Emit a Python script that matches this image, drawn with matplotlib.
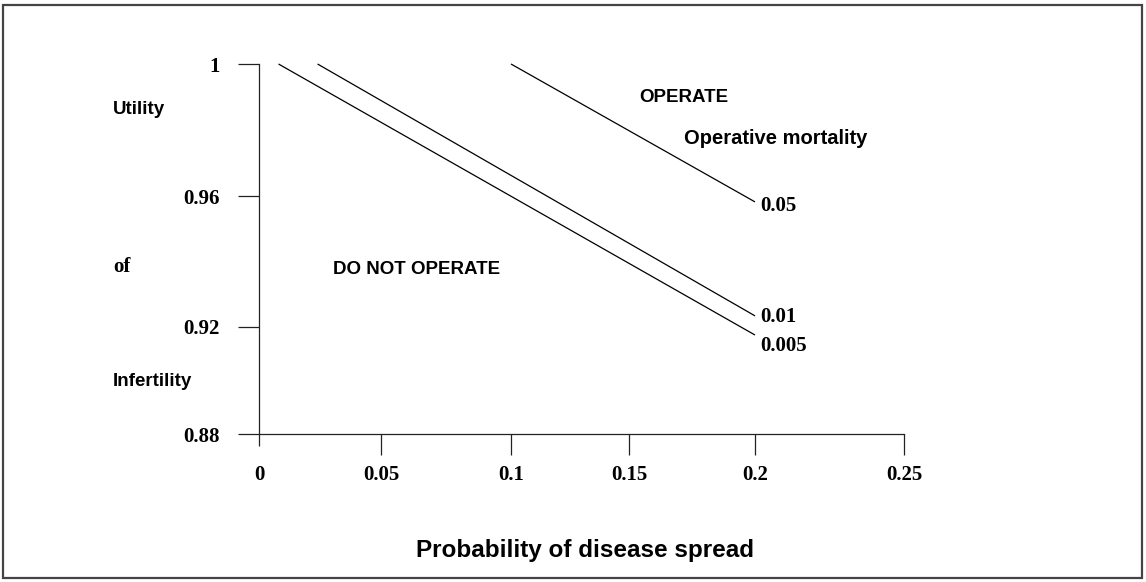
import numpy as np
import matplotlib
matplotlib.use("Agg")
import matplotlib.pyplot as plt
from matplotlib.patches import Rectangle

# ---- data ----
mortality_labels = ["0.005", "0.01", "0.05"]
line_x_start = [0.008, 0.024, 0.1]
line_y_start = [1.0, 1.0, 1.0]
line_x_end = [0.2, 0.2, 0.2]
line_y_end = [0.917, 0.9234, 0.9582]

x_ticks = [0, 0.05, 0.1, 0.15, 0.2, 0.25]
x_tick_labels = ["0", "0.05", "0.1", "0.15", "0.2", "0.25"]
y_ticks = [0.88, 0.92, 0.96, 1.0]
y_tick_labels = ["0.88", "0.92", "0.96", "1"]

# hand-drawn axis: uneven tick spacing (relative positions of the ticks)
x_tick_pos = [0, 122, 252, 370, 496, 645]
y_tick_pos = [0, 107, 238, 370]
# vertical nudge (points) of each end label
label_dy = [-8, -0.7, -3]

W, H = 1146, 582
fig = plt.figure(figsize=(W / 100, H / 100), dpi=100)

def fx(px):
    return px / W

def fy(py):
    return 1 - py / H

ax = fig.add_axes([fx(259), fy(434), (904 - 259) / W, (434 - 64) / H])

ax.set_xscale("function", functions=(lambda v: np.interp(np.asarray(v, float), x_ticks, x_tick_pos),
                                     lambda v: np.interp(np.asarray(v, float), x_tick_pos, x_ticks)))
ax.set_yscale("function", functions=(lambda v: np.interp(np.asarray(v, float), y_ticks, y_tick_pos),
                                     lambda v: np.interp(np.asarray(v, float), y_tick_pos, y_ticks)))
ax.set_xlim(0, 0.25)
ax.set_ylim(0.88, 1.0)

serif = "Liberation Serif"
num_size = 15

for xs0, ys0, xe, ye, lab, dy in zip(line_x_start, line_y_start, line_x_end, line_y_end,
                                     mortality_labels, label_dy):
    ax.plot([xs0, xe], [ys0, ye], color="black", lw=0.9, solid_capstyle="butt", clip_on=False)
    ax.annotate(lab, (xe, ye), xytext=(4, dy), textcoords="offset points",
                ha="left", va="center", family=serif, fontweight="bold",
                fontsize=num_size, annotation_clip=False)

for s in ["top", "right"]:
    ax.spines[s].set_visible(False)
for s in ["left", "bottom"]:
    ax.spines[s].set_linewidth(0.9)
    ax.spines[s].set_color("#222222")

ax.set_xticks(x_ticks)
ax.set_xticklabels(x_tick_labels, family=serif, fontweight="bold", fontsize=num_size)
ax.set_yticks(y_ticks)
ax.set_yticklabels(y_tick_labels, family=serif, fontweight="bold", fontsize=num_size)
ax.tick_params(axis="x", direction="out", length=15, width=0.9, pad=7, color="#222222")
ax.tick_params(axis="y", direction="out", length=15, width=0.9, pad=13, color="#222222")
ax.xaxis.get_major_ticks()[0].tick1line.set_markersize(8.5)
ax.set_facecolor("none")

sans = "Liberation Sans"
fs = 13.5
fig.text(fx(113), fy(110), "Utility", ha="left", va="center", family=sans, fontweight="bold", fontsize=fs)
fig.text(fx(113), fy(267), "of", ha="left", va="center", family=serif, fontweight="bold", fontsize=num_size)
fig.text(fx(113), fy(382), "Infertility", ha="left", va="center", family=sans, fontweight="bold", fontsize=fs)
fig.text(fx(639), fy(97), "OPERATE", ha="left", va="center", family=sans, fontweight="bold", fontsize=fs)
fig.text(fx(684), fy(138), "Operative mortality", ha="left", va="center", family=sans, fontweight="bold", fontsize=14.5)
fig.text(fx(333), fy(269), "DO NOT OPERATE", ha="left", va="center", family=sans, fontweight="bold", fontsize=fs)
fig.text(fx(585), fy(551), "Probability of disease spread", ha="center", va="center", family=sans,
         fontweight="bold", fontsize=17.5)

fig.patches.append(Rectangle((fx(3), fy(578)), (1142 - 3) / W, (578 - 5) / H, transform=fig.transFigure,
                             fill=False, edgecolor="#444444", lw=1.6))

fig.savefig("out.png", dpi=100)
